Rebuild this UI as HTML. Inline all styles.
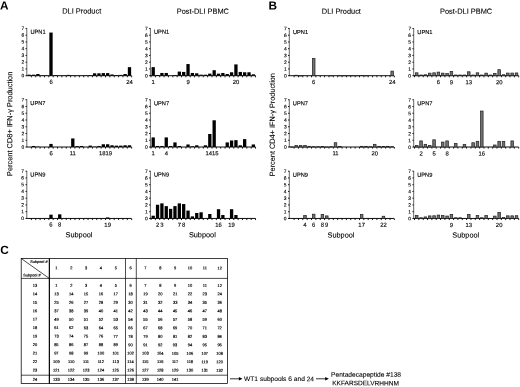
<!DOCTYPE html>
<html><head><meta charset="utf-8"><title>Figure</title>
<style>html,body{margin:0;padding:0;background:#fff}body{width:520px;height:387px;overflow:hidden}svg{display:block;filter:blur(0.35px)}text{font-family:'Liberation Sans', sans-serif;fill:#000}.c{stroke:#000;stroke-width:0.13px}.h{stroke:#000;stroke-width:0.1px}.t{fill:#000;stroke:#000;stroke-width:1.6px}</style></head><body>
<svg width="520" height="387" viewBox="0 0 520 387">
<rect width="520" height="387" fill="#fff"/>
<path d="M26.8 28.15V75.7" fill="none" stroke="#333" stroke-width="0.75"/>
<path d="M26.4 75.7H131.5" fill="none" stroke="#000" stroke-width="0.95"/>
<path d="M25.5 75.7H26.8M25.5 68.95H26.8M25.5 62.2H26.8M25.5 55.45H26.8M25.5 48.7H26.8M25.5 41.95H26.8M25.5 35.2H26.8M25.5 28.45H26.8M31.38 75.7V77.3M35.74 75.7V77.3M40.1 75.7V77.3M44.46 75.7V77.3M48.82 75.7V77.3M53.18 75.7V77.3M57.54 75.7V77.3M61.9 75.7V77.3M66.26 75.7V77.3M70.62 75.7V77.3M74.98 75.7V77.3M79.34 75.7V77.3M83.7 75.7V77.3M88.06 75.7V77.3M92.42 75.7V77.3M96.78 75.7V77.3M101.14 75.7V77.3M105.5 75.7V77.3M109.86 75.7V77.3M114.22 75.7V77.3M118.58 75.7V77.3M122.94 75.7V77.3M127.3 75.7V77.3M131.66 75.7V77.3" stroke="#000" stroke-width="0.9" fill="none"/>
<rect x="27.55" y="74.67" width="3.3" height="1.03" fill="#000"/>
<rect x="31.91" y="74.67" width="3.3" height="1.03" fill="#000"/>
<rect x="36.27" y="73.99" width="3.3" height="1.71" fill="#000"/>
<rect x="40.63" y="75.36" width="3.3" height="0.34" fill="#000"/>
<rect x="44.99" y="75.36" width="3.3" height="0.34" fill="#000"/>
<rect x="49.35" y="32.55" width="3.3" height="43.15" fill="#000"/>
<rect x="53.71" y="75.15" width="3.3" height="0.55" fill="#000"/>
<rect x="58.07" y="75.43" width="3.3" height="0.27" fill="#000"/>
<rect x="62.43" y="75.43" width="3.3" height="0.27" fill="#000"/>
<rect x="66.79" y="74.88" width="3.3" height="0.82" fill="#000"/>
<rect x="71.15" y="75.29" width="3.3" height="0.41" fill="#000"/>
<rect x="75.51" y="75.43" width="3.3" height="0.27" fill="#000"/>
<rect x="79.87" y="75.43" width="3.3" height="0.27" fill="#000"/>
<rect x="84.23" y="75.36" width="3.3" height="0.34" fill="#000"/>
<rect x="88.59" y="75.15" width="3.3" height="0.55" fill="#000"/>
<rect x="92.95" y="73.3" width="3.3" height="2.4" fill="#000"/>
<rect x="97.31" y="73.3" width="3.3" height="2.4" fill="#000"/>
<rect x="101.67" y="73.1" width="3.3" height="2.6" fill="#000"/>
<rect x="106.03" y="73.1" width="3.3" height="2.6" fill="#000"/>
<rect x="110.39" y="74.47" width="3.3" height="1.23" fill="#000"/>
<rect x="114.75" y="75.02" width="3.3" height="0.69" fill="#000"/>
<rect x="119.11" y="74.88" width="3.3" height="0.82" fill="#000"/>
<rect x="123.47" y="73.99" width="3.3" height="1.71" fill="#000"/>
<rect x="127.83" y="67.14" width="3.3" height="8.56" fill="#000"/>
<path d="M26.8 99.45V147" fill="none" stroke="#333" stroke-width="0.75"/>
<path d="M26.4 147H131.5" fill="none" stroke="#000" stroke-width="0.95"/>
<path d="M25.5 147H26.8M25.5 140.25H26.8M25.5 133.5H26.8M25.5 126.75H26.8M25.5 120H26.8M25.5 113.25H26.8M25.5 106.5H26.8M25.5 99.75H26.8M31.38 147V148.6M35.74 147V148.6M40.1 147V148.6M44.46 147V148.6M48.82 147V148.6M53.18 147V148.6M57.54 147V148.6M61.9 147V148.6M66.26 147V148.6M70.62 147V148.6M74.98 147V148.6M79.34 147V148.6M83.7 147V148.6M88.06 147V148.6M92.42 147V148.6M96.78 147V148.6M101.14 147V148.6M105.5 147V148.6M109.86 147V148.6M114.22 147V148.6M118.58 147V148.6M122.94 147V148.6M127.3 147V148.6M131.66 147V148.6" stroke="#000" stroke-width="0.9" fill="none"/>
<rect x="31.91" y="145.97" width="3.3" height="1.03" fill="#000"/>
<rect x="36.27" y="146.66" width="3.3" height="0.34" fill="#000"/>
<rect x="49.35" y="143.92" width="3.3" height="3.08" fill="#000"/>
<rect x="71.15" y="138.44" width="3.3" height="8.56" fill="#000"/>
<rect x="75.51" y="146.18" width="3.3" height="0.82" fill="#000"/>
<rect x="79.87" y="145.97" width="3.3" height="1.03" fill="#000"/>
<rect x="88.59" y="145.63" width="3.3" height="1.37" fill="#000"/>
<rect x="92.95" y="146.66" width="3.3" height="0.34" fill="#000"/>
<rect x="97.31" y="145.97" width="3.3" height="1.03" fill="#000"/>
<rect x="101.67" y="144.26" width="3.3" height="2.74" fill="#000"/>
<rect x="106.03" y="144.26" width="3.3" height="2.74" fill="#000"/>
<rect x="110.39" y="145.29" width="3.3" height="1.71" fill="#000"/>
<rect x="114.75" y="145.63" width="3.3" height="1.37" fill="#000"/>
<rect x="119.11" y="145.63" width="3.3" height="1.37" fill="#000"/>
<rect x="123.47" y="145.29" width="3.3" height="1.71" fill="#000"/>
<rect x="127.83" y="145.29" width="3.3" height="1.71" fill="#000"/>
<path d="M26.8 170.9V218.45" fill="none" stroke="#333" stroke-width="0.75"/>
<path d="M26.4 218.45H131.5" fill="none" stroke="#000" stroke-width="0.95"/>
<path d="M25.5 218.45H26.8M25.5 211.7H26.8M25.5 204.95H26.8M25.5 198.2H26.8M25.5 191.45H26.8M25.5 184.7H26.8M25.5 177.95H26.8M25.5 171.2H26.8M31.38 218.45V220.05M35.74 218.45V220.05M40.1 218.45V220.05M44.46 218.45V220.05M48.82 218.45V220.05M53.18 218.45V220.05M57.54 218.45V220.05M61.9 218.45V220.05M66.26 218.45V220.05M70.62 218.45V220.05M74.98 218.45V220.05M79.34 218.45V220.05M83.7 218.45V220.05M88.06 218.45V220.05M92.42 218.45V220.05M96.78 218.45V220.05M101.14 218.45V220.05M105.5 218.45V220.05M109.86 218.45V220.05M114.22 218.45V220.05M118.58 218.45V220.05M122.94 218.45V220.05M127.3 218.45V220.05M131.66 218.45V220.05" stroke="#000" stroke-width="0.9" fill="none"/>
<rect x="49.35" y="214.68" width="3.3" height="3.77" fill="#000"/>
<rect x="58.07" y="214.34" width="3.3" height="4.11" fill="#000"/>
<rect x="106.03" y="217.42" width="3.3" height="1.03" fill="#000"/>
<path d="M150.4 28.15V75.7" fill="none" stroke="#333" stroke-width="0.75"/>
<path d="M150 75.7H255.6" fill="none" stroke="#000" stroke-width="0.95"/>
<path d="M149.1 75.7H150.4M149.1 68.95H150.4M149.1 62.2H150.4M149.1 55.45H150.4M149.1 48.7H150.4M149.1 41.95H150.4M149.1 35.2H150.4M149.1 28.45H150.4M151.02 75.7V77.3M155.38 75.7V77.3M159.73 75.7V77.3M164.09 75.7V77.3M168.44 75.7V77.3M172.8 75.7V77.3M177.15 75.7V77.3M181.51 75.7V77.3M185.86 75.7V77.3M190.22 75.7V77.3M194.57 75.7V77.3M198.93 75.7V77.3M203.28 75.7V77.3M207.64 75.7V77.3M211.99 75.7V77.3M216.35 75.7V77.3M220.7 75.7V77.3M225.06 75.7V77.3M229.41 75.7V77.3M233.77 75.7V77.3M238.12 75.7V77.3M242.48 75.7V77.3M246.83 75.7V77.3M251.19 75.7V77.3M255.54 75.7V77.3" stroke="#000" stroke-width="0.9" fill="none"/>
<rect x="151.55" y="67.14" width="3.3" height="8.56" fill="#000"/>
<rect x="155.9" y="75.02" width="3.3" height="0.69" fill="#000"/>
<rect x="160.26" y="72.96" width="3.3" height="2.74" fill="#000"/>
<rect x="164.61" y="72.96" width="3.3" height="2.74" fill="#000"/>
<rect x="173.32" y="75.02" width="3.3" height="0.69" fill="#000"/>
<rect x="177.68" y="71.59" width="3.3" height="4.11" fill="#000"/>
<rect x="182.03" y="71.93" width="3.3" height="3.77" fill="#000"/>
<rect x="186.39" y="64.06" width="3.3" height="11.64" fill="#000"/>
<rect x="190.74" y="72.96" width="3.3" height="2.74" fill="#000"/>
<rect x="195.1" y="73.3" width="3.3" height="2.4" fill="#000"/>
<rect x="199.45" y="74.67" width="3.3" height="1.03" fill="#000"/>
<rect x="203.81" y="74.67" width="3.3" height="1.03" fill="#000"/>
<rect x="208.16" y="73.65" width="3.3" height="2.05" fill="#000"/>
<rect x="212.52" y="70.22" width="3.3" height="5.48" fill="#000"/>
<rect x="216.87" y="73.65" width="3.3" height="2.05" fill="#000"/>
<rect x="221.23" y="72.96" width="3.3" height="2.74" fill="#000"/>
<rect x="225.59" y="73.99" width="3.3" height="1.71" fill="#000"/>
<rect x="229.94" y="72.28" width="3.3" height="3.42" fill="#000"/>
<rect x="234.29" y="64.4" width="3.3" height="11.3" fill="#000"/>
<rect x="238.65" y="71.93" width="3.3" height="3.77" fill="#000"/>
<rect x="243" y="72.28" width="3.3" height="3.42" fill="#000"/>
<rect x="247.36" y="72.28" width="3.3" height="3.42" fill="#000"/>
<rect x="251.72" y="74.33" width="3.3" height="1.37" fill="#000"/>
<path d="M150.4 99.45V147" fill="none" stroke="#333" stroke-width="0.75"/>
<path d="M150 147H255.6" fill="none" stroke="#000" stroke-width="0.95"/>
<path d="M149.1 147H150.4M149.1 140.25H150.4M149.1 133.5H150.4M149.1 126.75H150.4M149.1 120H150.4M149.1 113.25H150.4M149.1 106.5H150.4M149.1 99.75H150.4M151.02 147V148.6M155.38 147V148.6M159.73 147V148.6M164.09 147V148.6M168.44 147V148.6M172.8 147V148.6M177.15 147V148.6M181.51 147V148.6M185.86 147V148.6M190.22 147V148.6M194.57 147V148.6M198.93 147V148.6M203.28 147V148.6M207.64 147V148.6M211.99 147V148.6M216.35 147V148.6M220.7 147V148.6M225.06 147V148.6M229.41 147V148.6M233.77 147V148.6M238.12 147V148.6M242.48 147V148.6M246.83 147V148.6M251.19 147V148.6M255.54 147V148.6" stroke="#000" stroke-width="0.9" fill="none"/>
<rect x="151.55" y="137.41" width="3.3" height="9.59" fill="#000"/>
<rect x="155.9" y="145.97" width="3.3" height="1.03" fill="#000"/>
<rect x="160.26" y="145.97" width="3.3" height="1.03" fill="#000"/>
<rect x="164.61" y="137.41" width="3.3" height="9.59" fill="#000"/>
<rect x="168.97" y="145.97" width="3.3" height="1.03" fill="#000"/>
<rect x="173.32" y="142.41" width="3.3" height="4.59" fill="#000"/>
<rect x="177.68" y="145.97" width="3.3" height="1.03" fill="#000"/>
<rect x="186.39" y="144.47" width="3.3" height="2.53" fill="#000"/>
<rect x="190.74" y="146.31" width="3.3" height="0.69" fill="#000"/>
<rect x="195.1" y="145.29" width="3.3" height="1.71" fill="#000"/>
<rect x="203.81" y="145.29" width="3.3" height="1.71" fill="#000"/>
<rect x="208.16" y="133.99" width="3.3" height="13.01" fill="#000"/>
<rect x="212.52" y="120.28" width="3.3" height="26.71" fill="#000"/>
<rect x="225.59" y="142.41" width="3.3" height="4.59" fill="#000"/>
<rect x="229.94" y="140.49" width="3.3" height="6.51" fill="#000"/>
<rect x="234.29" y="140.15" width="3.3" height="6.85" fill="#000"/>
<rect x="238.65" y="145.29" width="3.3" height="1.71" fill="#000"/>
<rect x="243" y="139.12" width="3.3" height="7.88" fill="#000"/>
<rect x="251.72" y="144.47" width="3.3" height="2.53" fill="#000"/>
<path d="M150.4 170.9V218.45" fill="none" stroke="#333" stroke-width="0.75"/>
<path d="M150 218.45H255.6" fill="none" stroke="#000" stroke-width="0.95"/>
<path d="M149.1 218.45H150.4M149.1 211.7H150.4M149.1 204.95H150.4M149.1 198.2H150.4M149.1 191.45H150.4M149.1 184.7H150.4M149.1 177.95H150.4M149.1 171.2H150.4M151.02 218.45V220.05M155.38 218.45V220.05M159.73 218.45V220.05M164.09 218.45V220.05M168.44 218.45V220.05M172.8 218.45V220.05M177.15 218.45V220.05M181.51 218.45V220.05M185.86 218.45V220.05M190.22 218.45V220.05M194.57 218.45V220.05M198.93 218.45V220.05M203.28 218.45V220.05M207.64 218.45V220.05M211.99 218.45V220.05M216.35 218.45V220.05M220.7 218.45V220.05M225.06 218.45V220.05M229.41 218.45V220.05M233.77 218.45V220.05M238.12 218.45V220.05M242.48 218.45V220.05M246.83 218.45V220.05M251.19 218.45V220.05M255.54 218.45V220.05" stroke="#000" stroke-width="0.9" fill="none"/>
<rect x="151.55" y="215.71" width="3.3" height="2.74" fill="#000"/>
<rect x="155.9" y="204.75" width="3.3" height="13.7" fill="#000"/>
<rect x="160.26" y="203.38" width="3.3" height="15.07" fill="#000"/>
<rect x="164.61" y="206.12" width="3.3" height="12.33" fill="#000"/>
<rect x="168.97" y="208.86" width="3.3" height="9.59" fill="#000"/>
<rect x="173.32" y="206.12" width="3.3" height="12.33" fill="#000"/>
<rect x="177.68" y="203.38" width="3.3" height="15.07" fill="#000"/>
<rect x="182.03" y="204.06" width="3.3" height="14.38" fill="#000"/>
<rect x="186.39" y="210.57" width="3.3" height="7.88" fill="#000"/>
<rect x="190.74" y="216.39" width="3.3" height="2.05" fill="#000"/>
<rect x="195.1" y="212.97" width="3.3" height="5.48" fill="#000"/>
<rect x="199.45" y="212.28" width="3.3" height="6.17" fill="#000"/>
<rect x="208.16" y="214" width="3.3" height="4.45" fill="#000"/>
<rect x="216.87" y="209.2" width="3.3" height="9.25" fill="#000"/>
<rect x="221.23" y="215.02" width="3.3" height="3.42" fill="#000"/>
<rect x="229.94" y="209.2" width="3.3" height="9.25" fill="#000"/>
<rect x="234.29" y="215.02" width="3.3" height="3.42" fill="#000"/>
<path d="M289.3 28.15V75.7" fill="none" stroke="#333" stroke-width="0.75"/>
<path d="M288.9 75.7H394" fill="none" stroke="#000" stroke-width="0.95"/>
<path d="M288 75.7H289.3M288 68.95H289.3M288 62.2H289.3M288 55.45H289.3M288 48.7H289.3M288 41.95H289.3M288 35.2H289.3M288 28.45H289.3M294.08 75.7V77.3M298.44 75.7V77.3M302.8 75.7V77.3M307.16 75.7V77.3M311.52 75.7V77.3M315.88 75.7V77.3M320.24 75.7V77.3M324.6 75.7V77.3M328.96 75.7V77.3M333.32 75.7V77.3M337.68 75.7V77.3M342.04 75.7V77.3M346.4 75.7V77.3M350.76 75.7V77.3M355.12 75.7V77.3M359.48 75.7V77.3M363.84 75.7V77.3M368.2 75.7V77.3M372.56 75.7V77.3M376.92 75.7V77.3M381.28 75.7V77.3M385.64 75.7V77.3M390 75.7V77.3M394.36 75.7V77.3" stroke="#000" stroke-width="0.9" fill="none"/>
<rect x="294.97" y="75.23" width="2.58" height="0.47" fill="#727272" stroke="#222" stroke-width="0.72"/>
<rect x="299.33" y="75.78" width="2.58" height="0.2" fill="#727272" stroke="#222" stroke-width="0.72"/>
<rect x="312.41" y="58.58" width="2.58" height="17.12" fill="#727272" stroke="#222" stroke-width="0.72"/>
<rect x="329.85" y="75.71" width="2.58" height="0.2" fill="#727272" stroke="#222" stroke-width="0.72"/>
<rect x="338.57" y="75.64" width="2.58" height="0.2" fill="#727272" stroke="#222" stroke-width="0.72"/>
<rect x="342.93" y="75.64" width="2.58" height="0.2" fill="#727272" stroke="#222" stroke-width="0.72"/>
<rect x="347.29" y="75.64" width="2.58" height="0.2" fill="#727272" stroke="#222" stroke-width="0.72"/>
<rect x="351.65" y="75.64" width="2.58" height="0.2" fill="#727272" stroke="#222" stroke-width="0.72"/>
<rect x="356.01" y="75.64" width="2.58" height="0.2" fill="#727272" stroke="#222" stroke-width="0.72"/>
<rect x="360.37" y="75.36" width="2.58" height="0.34" fill="#727272" stroke="#222" stroke-width="0.72"/>
<rect x="364.73" y="75.71" width="2.58" height="0.2" fill="#727272" stroke="#222" stroke-width="0.72"/>
<rect x="390.89" y="71.1" width="2.58" height="4.6" fill="#727272" stroke="#222" stroke-width="0.72"/>
<path d="M289.3 99.45V147" fill="none" stroke="#333" stroke-width="0.75"/>
<path d="M288.9 147H394" fill="none" stroke="#000" stroke-width="0.95"/>
<path d="M288 147H289.3M288 140.25H289.3M288 133.5H289.3M288 126.75H289.3M288 120H289.3M288 113.25H289.3M288 106.5H289.3M288 99.75H289.3M294.08 147V148.6M298.44 147V148.6M302.8 147V148.6M307.16 147V148.6M311.52 147V148.6M315.88 147V148.6M320.24 147V148.6M324.6 147V148.6M328.96 147V148.6M333.32 147V148.6M337.68 147V148.6M342.04 147V148.6M346.4 147V148.6M350.76 147V148.6M355.12 147V148.6M359.48 147V148.6M363.84 147V148.6M368.2 147V148.6M372.56 147V148.6M376.92 147V148.6M381.28 147V148.6M385.64 147V148.6M390 147V148.6M394.36 147V148.6" stroke="#000" stroke-width="0.9" fill="none"/>
<rect x="290.61" y="147.01" width="2.58" height="0.2" fill="#727272" stroke="#222" stroke-width="0.72"/>
<rect x="294.97" y="145.48" width="2.58" height="1.52" fill="#727272" stroke="#222" stroke-width="0.72"/>
<rect x="299.33" y="145.48" width="2.58" height="1.52" fill="#727272" stroke="#222" stroke-width="0.72"/>
<rect x="303.69" y="145.48" width="2.58" height="1.52" fill="#727272" stroke="#222" stroke-width="0.72"/>
<rect x="308.05" y="146.32" width="2.58" height="0.68" fill="#727272" stroke="#222" stroke-width="0.72"/>
<rect x="312.41" y="146.66" width="2.58" height="0.34" fill="#727272" stroke="#222" stroke-width="0.72"/>
<rect x="316.77" y="146.66" width="2.58" height="0.34" fill="#727272" stroke="#222" stroke-width="0.72"/>
<rect x="321.13" y="146.53" width="2.58" height="0.47" fill="#727272" stroke="#222" stroke-width="0.72"/>
<rect x="325.49" y="147.01" width="2.58" height="0.2" fill="#727272" stroke="#222" stroke-width="0.72"/>
<rect x="329.85" y="146.66" width="2.58" height="0.34" fill="#727272" stroke="#222" stroke-width="0.72"/>
<rect x="334.21" y="142.74" width="2.58" height="4.26" fill="#727272" stroke="#222" stroke-width="0.72"/>
<rect x="338.57" y="146.46" width="2.58" height="0.54" fill="#727272" stroke="#222" stroke-width="0.72"/>
<rect x="360.37" y="146.32" width="2.58" height="0.68" fill="#727272" stroke="#222" stroke-width="0.72"/>
<rect x="364.73" y="146.32" width="2.58" height="0.68" fill="#727272" stroke="#222" stroke-width="0.72"/>
<rect x="369.09" y="146.66" width="2.58" height="0.34" fill="#727272" stroke="#222" stroke-width="0.72"/>
<rect x="373.45" y="144.32" width="2.58" height="2.68" fill="#727272" stroke="#222" stroke-width="0.72"/>
<rect x="377.81" y="146.32" width="2.58" height="0.68" fill="#727272" stroke="#222" stroke-width="0.72"/>
<rect x="382.17" y="146.53" width="2.58" height="0.47" fill="#727272" stroke="#222" stroke-width="0.72"/>
<rect x="386.53" y="146.32" width="2.58" height="0.68" fill="#727272" stroke="#222" stroke-width="0.72"/>
<rect x="390.89" y="146.66" width="2.58" height="0.34" fill="#727272" stroke="#222" stroke-width="0.72"/>
<path d="M289.3 170.9V218.45" fill="none" stroke="#333" stroke-width="0.75"/>
<path d="M288.9 218.45H394" fill="none" stroke="#000" stroke-width="0.95"/>
<path d="M288 218.45H289.3M288 211.7H289.3M288 204.95H289.3M288 198.2H289.3M288 191.45H289.3M288 184.7H289.3M288 177.95H289.3M288 171.2H289.3M294.08 218.45V220.05M298.44 218.45V220.05M302.8 218.45V220.05M307.16 218.45V220.05M311.52 218.45V220.05M315.88 218.45V220.05M320.24 218.45V220.05M324.6 218.45V220.05M328.96 218.45V220.05M333.32 218.45V220.05M337.68 218.45V220.05M342.04 218.45V220.05M346.4 218.45V220.05M350.76 218.45V220.05M355.12 218.45V220.05M359.48 218.45V220.05M363.84 218.45V220.05M368.2 218.45V220.05M372.56 218.45V220.05M376.92 218.45V220.05M381.28 218.45V220.05M385.64 218.45V220.05M390 218.45V220.05M394.36 218.45V220.05" stroke="#000" stroke-width="0.9" fill="none"/>
<rect x="303.69" y="215.56" width="2.58" height="2.89" fill="#727272" stroke="#222" stroke-width="0.72"/>
<rect x="312.41" y="214.19" width="2.58" height="4.26" fill="#727272" stroke="#222" stroke-width="0.72"/>
<rect x="321.13" y="214.53" width="2.58" height="3.92" fill="#727272" stroke="#222" stroke-width="0.72"/>
<rect x="325.49" y="215.9" width="2.58" height="2.55" fill="#727272" stroke="#222" stroke-width="0.72"/>
<rect x="360.37" y="214.53" width="2.58" height="3.92" fill="#727272" stroke="#222" stroke-width="0.72"/>
<rect x="382.17" y="216.24" width="2.58" height="2.2" fill="#727272" stroke="#222" stroke-width="0.72"/>
<path d="M413.7 28.15V75.7" fill="none" stroke="#333" stroke-width="0.75"/>
<path d="M413.3 75.7H518.6" fill="none" stroke="#000" stroke-width="0.95"/>
<path d="M412.4 75.7H413.7M412.4 68.95H413.7M412.4 62.2H413.7M412.4 55.45H413.7M412.4 48.7H413.7M412.4 41.95H413.7M412.4 35.2H413.7M412.4 28.45H413.7M414.53 75.7V77.3M418.87 75.7V77.3M423.21 75.7V77.3M427.55 75.7V77.3M431.89 75.7V77.3M436.23 75.7V77.3M440.57 75.7V77.3M444.91 75.7V77.3M449.25 75.7V77.3M453.59 75.7V77.3M457.93 75.7V77.3M462.27 75.7V77.3M466.61 75.7V77.3M470.95 75.7V77.3M475.29 75.7V77.3M479.63 75.7V77.3M483.97 75.7V77.3M488.31 75.7V77.3M492.65 75.7V77.3M496.99 75.7V77.3M501.33 75.7V77.3M505.67 75.7V77.3M510.01 75.7V77.3M514.35 75.7V77.3M518.69 75.7V77.3" stroke="#000" stroke-width="0.9" fill="none"/>
<rect x="415.41" y="72.81" width="2.58" height="2.89" fill="#727272" stroke="#222" stroke-width="0.72"/>
<rect x="419.75" y="75.02" width="2.58" height="0.68" fill="#727272" stroke="#222" stroke-width="0.72"/>
<rect x="424.09" y="74.75" width="2.58" height="0.95" fill="#727272" stroke="#222" stroke-width="0.72"/>
<rect x="428.43" y="73.15" width="2.58" height="2.55" fill="#727272" stroke="#222" stroke-width="0.72"/>
<rect x="432.77" y="72.81" width="2.58" height="2.89" fill="#727272" stroke="#222" stroke-width="0.72"/>
<rect x="437.11" y="72.12" width="2.58" height="3.57" fill="#727272" stroke="#222" stroke-width="0.72"/>
<rect x="441.45" y="73.15" width="2.58" height="2.55" fill="#727272" stroke="#222" stroke-width="0.72"/>
<rect x="445.79" y="73.5" width="2.58" height="2.2" fill="#727272" stroke="#222" stroke-width="0.72"/>
<rect x="450.13" y="71.44" width="2.58" height="4.26" fill="#727272" stroke="#222" stroke-width="0.72"/>
<rect x="454.47" y="75.02" width="2.58" height="0.68" fill="#727272" stroke="#222" stroke-width="0.72"/>
<rect x="458.81" y="75.02" width="2.58" height="0.68" fill="#727272" stroke="#222" stroke-width="0.72"/>
<rect x="463.15" y="75.02" width="2.58" height="0.68" fill="#727272" stroke="#222" stroke-width="0.72"/>
<rect x="467.49" y="71.78" width="2.58" height="3.92" fill="#727272" stroke="#222" stroke-width="0.72"/>
<rect x="471.83" y="75.02" width="2.58" height="0.68" fill="#727272" stroke="#222" stroke-width="0.72"/>
<rect x="476.17" y="72.81" width="2.58" height="2.89" fill="#727272" stroke="#222" stroke-width="0.72"/>
<rect x="480.51" y="75.02" width="2.58" height="0.68" fill="#727272" stroke="#222" stroke-width="0.72"/>
<rect x="484.85" y="73.15" width="2.58" height="2.55" fill="#727272" stroke="#222" stroke-width="0.72"/>
<rect x="489.19" y="75.02" width="2.58" height="0.68" fill="#727272" stroke="#222" stroke-width="0.72"/>
<rect x="493.53" y="73.5" width="2.58" height="2.2" fill="#727272" stroke="#222" stroke-width="0.72"/>
<rect x="497.87" y="69.68" width="2.58" height="6.02" fill="#727272" stroke="#222" stroke-width="0.72"/>
<rect x="502.21" y="74.75" width="2.58" height="0.95" fill="#727272" stroke="#222" stroke-width="0.72"/>
<rect x="506.55" y="73.08" width="2.58" height="2.62" fill="#727272" stroke="#222" stroke-width="0.72"/>
<rect x="510.89" y="73.08" width="2.58" height="2.62" fill="#727272" stroke="#222" stroke-width="0.72"/>
<rect x="515.23" y="72.95" width="2.58" height="2.75" fill="#727272" stroke="#222" stroke-width="0.72"/>
<path d="M413.7 99.45V147" fill="none" stroke="#333" stroke-width="0.75"/>
<path d="M413.3 147H518.6" fill="none" stroke="#000" stroke-width="0.95"/>
<path d="M412.4 147H413.7M412.4 140.25H413.7M412.4 133.5H413.7M412.4 126.75H413.7M412.4 120H413.7M412.4 113.25H413.7M412.4 106.5H413.7M412.4 99.75H413.7M414.53 147V148.6M418.87 147V148.6M423.21 147V148.6M427.55 147V148.6M431.89 147V148.6M436.23 147V148.6M440.57 147V148.6M444.91 147V148.6M449.25 147V148.6M453.59 147V148.6M457.93 147V148.6M462.27 147V148.6M466.61 147V148.6M470.95 147V148.6M475.29 147V148.6M479.63 147V148.6M483.97 147V148.6M488.31 147V148.6M492.65 147V148.6M496.99 147V148.6M501.33 147V148.6M505.67 147V148.6M510.01 147V148.6M514.35 147V148.6M518.69 147V148.6" stroke="#000" stroke-width="0.9" fill="none"/>
<rect x="415.41" y="145.48" width="2.58" height="1.52" fill="#727272" stroke="#222" stroke-width="0.72"/>
<rect x="419.75" y="140.91" width="2.58" height="6.09" fill="#727272" stroke="#222" stroke-width="0.72"/>
<rect x="424.09" y="144.32" width="2.58" height="2.68" fill="#727272" stroke="#222" stroke-width="0.72"/>
<rect x="428.43" y="145.48" width="2.58" height="1.52" fill="#727272" stroke="#222" stroke-width="0.72"/>
<rect x="432.77" y="139.81" width="2.58" height="7.19" fill="#727272" stroke="#222" stroke-width="0.72"/>
<rect x="441.45" y="142.06" width="2.58" height="4.94" fill="#727272" stroke="#222" stroke-width="0.72"/>
<rect x="445.79" y="140.91" width="2.58" height="6.09" fill="#727272" stroke="#222" stroke-width="0.72"/>
<rect x="454.47" y="143.42" width="2.58" height="3.57" fill="#727272" stroke="#222" stroke-width="0.72"/>
<rect x="463.15" y="144.59" width="2.58" height="2.41" fill="#727272" stroke="#222" stroke-width="0.72"/>
<rect x="471.83" y="142.74" width="2.58" height="4.26" fill="#727272" stroke="#222" stroke-width="0.72"/>
<rect x="476.17" y="141.32" width="2.58" height="5.68" fill="#727272" stroke="#222" stroke-width="0.72"/>
<rect x="480.51" y="111.04" width="2.58" height="35.95" fill="#727272" stroke="#222" stroke-width="0.72"/>
<rect x="493.53" y="145" width="2.58" height="2" fill="#727272" stroke="#222" stroke-width="0.72"/>
<rect x="497.87" y="141.32" width="2.58" height="5.68" fill="#727272" stroke="#222" stroke-width="0.72"/>
<rect x="502.21" y="141.32" width="2.58" height="5.68" fill="#727272" stroke="#222" stroke-width="0.72"/>
<rect x="510.89" y="140.91" width="2.58" height="6.09" fill="#727272" stroke="#222" stroke-width="0.72"/>
<path d="M413.7 170.9V218.45" fill="none" stroke="#333" stroke-width="0.75"/>
<path d="M413.3 218.45H518.6" fill="none" stroke="#000" stroke-width="0.95"/>
<path d="M412.4 218.45H413.7M412.4 211.7H413.7M412.4 204.95H413.7M412.4 198.2H413.7M412.4 191.45H413.7M412.4 184.7H413.7M412.4 177.95H413.7M412.4 171.2H413.7M414.53 218.45V220.05M418.87 218.45V220.05M423.21 218.45V220.05M427.55 218.45V220.05M431.89 218.45V220.05M436.23 218.45V220.05M440.57 218.45V220.05M444.91 218.45V220.05M449.25 218.45V220.05M453.59 218.45V220.05M457.93 218.45V220.05M462.27 218.45V220.05M466.61 218.45V220.05M470.95 218.45V220.05M475.29 218.45V220.05M479.63 218.45V220.05M483.97 218.45V220.05M488.31 218.45V220.05M492.65 218.45V220.05M496.99 218.45V220.05M501.33 218.45V220.05M505.67 218.45V220.05M510.01 218.45V220.05M514.35 218.45V220.05M518.69 218.45V220.05" stroke="#000" stroke-width="0.9" fill="none"/>
<rect x="415.41" y="215.56" width="2.58" height="2.89" fill="#727272" stroke="#222" stroke-width="0.72"/>
<rect x="419.75" y="217.77" width="2.58" height="0.68" fill="#727272" stroke="#222" stroke-width="0.72"/>
<rect x="424.09" y="216.93" width="2.58" height="1.52" fill="#727272" stroke="#222" stroke-width="0.72"/>
<rect x="428.43" y="215.9" width="2.58" height="2.55" fill="#727272" stroke="#222" stroke-width="0.72"/>
<rect x="432.77" y="215.77" width="2.58" height="2.68" fill="#727272" stroke="#222" stroke-width="0.72"/>
<rect x="437.11" y="215.08" width="2.58" height="3.37" fill="#727272" stroke="#222" stroke-width="0.72"/>
<rect x="441.45" y="215.56" width="2.58" height="2.89" fill="#727272" stroke="#222" stroke-width="0.72"/>
<rect x="445.79" y="216.04" width="2.58" height="2.41" fill="#727272" stroke="#222" stroke-width="0.72"/>
<rect x="450.13" y="214.4" width="2.58" height="4.05" fill="#727272" stroke="#222" stroke-width="0.72"/>
<rect x="454.47" y="217.77" width="2.58" height="0.68" fill="#727272" stroke="#222" stroke-width="0.72"/>
<rect x="458.81" y="217.77" width="2.58" height="0.68" fill="#727272" stroke="#222" stroke-width="0.72"/>
<rect x="467.49" y="214.4" width="2.58" height="4.05" fill="#727272" stroke="#222" stroke-width="0.72"/>
<rect x="476.17" y="215.56" width="2.58" height="2.89" fill="#727272" stroke="#222" stroke-width="0.72"/>
<rect x="480.51" y="217.77" width="2.58" height="0.68" fill="#727272" stroke="#222" stroke-width="0.72"/>
<rect x="484.85" y="215.56" width="2.58" height="2.89" fill="#727272" stroke="#222" stroke-width="0.72"/>
<rect x="493.53" y="216.11" width="2.58" height="2.34" fill="#727272" stroke="#222" stroke-width="0.72"/>
<rect x="497.87" y="212.43" width="2.58" height="6.02" fill="#727272" stroke="#222" stroke-width="0.72"/>
<rect x="502.21" y="217.5" width="2.58" height="0.95" fill="#727272" stroke="#222" stroke-width="0.72"/>
<rect x="506.55" y="215.83" width="2.58" height="2.62" fill="#727272" stroke="#222" stroke-width="0.72"/>
<rect x="510.89" y="215.83" width="2.58" height="2.62" fill="#727272" stroke="#222" stroke-width="0.72"/>
<rect x="515.23" y="215.7" width="2.58" height="2.75" fill="#727272" stroke="#222" stroke-width="0.72"/>
<rect x="21.2" y="258.5" width="206.4" height="125.0" fill="none" stroke="#000" stroke-width="0.75"/>
<path d="M21.2 278.4H227.6M21.2 375.2H227.6M49.3 258.5V383.5M125.5 258.5V383.5M136.3 258.5V383.5M21.2 258.5L49.3 278.4" stroke="#000" stroke-width="0.7" fill="none"/>
<path d="M49.4 258.5V383.5" stroke="#000" stroke-width="1.0" fill="none"/>
<g transform="rotate(0.05 125 320) scale(0.1)">
<text x="564" y="2693" font-size="40.0" text-anchor="middle" class="t">1</text>
<text x="712.4" y="2693" font-size="40.0" text-anchor="middle" class="t">2</text>
<text x="860.8" y="2693" font-size="40.0" text-anchor="middle" class="t">3</text>
<text x="1009.2" y="2693" font-size="40.0" text-anchor="middle" class="t">4</text>
<text x="1157.6" y="2693" font-size="40.0" text-anchor="middle" class="t">5</text>
<text x="1306" y="2693" font-size="40.0" text-anchor="middle" class="t">6</text>
<text x="1454.4" y="2693" font-size="40.0" text-anchor="middle" class="t">7</text>
<text x="1602.8" y="2693" font-size="40.0" text-anchor="middle" class="t">8</text>
<text x="1751.2" y="2693" font-size="40.0" text-anchor="middle" class="t">9</text>
<text x="1899.6" y="2693" font-size="40.0" text-anchor="middle" class="t">10</text>
<text x="2048" y="2693" font-size="40.0" text-anchor="middle" class="t">11</text>
<text x="2196.4" y="2693" font-size="40.0" text-anchor="middle" class="t">12</text>
<text x="350" y="2868" font-size="40.0" text-anchor="middle" class="t">13</text>
<text x="564" y="2868" font-size="40.0" text-anchor="middle" class="t">1</text>
<text x="712.4" y="2868" font-size="40.0" text-anchor="middle" class="t">2</text>
<text x="860.8" y="2868" font-size="40.0" text-anchor="middle" class="t">3</text>
<text x="1009.2" y="2868" font-size="40.0" text-anchor="middle" class="t">4</text>
<text x="1157.6" y="2868" font-size="40.0" text-anchor="middle" class="t">5</text>
<text x="1306" y="2868" font-size="40.0" text-anchor="middle" class="t">6</text>
<text x="1454.4" y="2868" font-size="40.0" text-anchor="middle" class="t">7</text>
<text x="1602.8" y="2868" font-size="40.0" text-anchor="middle" class="t">8</text>
<text x="1751.2" y="2868" font-size="40.0" text-anchor="middle" class="t">9</text>
<text x="1899.6" y="2868" font-size="40.0" text-anchor="middle" class="t">10</text>
<text x="2048" y="2868" font-size="40.0" text-anchor="middle" class="t">11</text>
<text x="2196.4" y="2868" font-size="40.0" text-anchor="middle" class="t">12</text>
<text x="350" y="2952.75" font-size="40.0" text-anchor="middle" class="t">14</text>
<text x="564" y="2952.75" font-size="40.0" text-anchor="middle" class="t">13</text>
<text x="712.4" y="2952.75" font-size="40.0" text-anchor="middle" class="t">14</text>
<text x="860.8" y="2952.75" font-size="40.0" text-anchor="middle" class="t">15</text>
<text x="1009.2" y="2952.75" font-size="40.0" text-anchor="middle" class="t">16</text>
<text x="1157.6" y="2952.75" font-size="40.0" text-anchor="middle" class="t">17</text>
<text x="1306" y="2952.75" font-size="40.0" text-anchor="middle" class="t">18</text>
<text x="1454.4" y="2952.75" font-size="40.0" text-anchor="middle" class="t">19</text>
<text x="1602.8" y="2952.75" font-size="40.0" text-anchor="middle" class="t">20</text>
<text x="1751.2" y="2952.75" font-size="40.0" text-anchor="middle" class="t">21</text>
<text x="1899.6" y="2952.75" font-size="40.0" text-anchor="middle" class="t">22</text>
<text x="2048" y="2952.75" font-size="40.0" text-anchor="middle" class="t">23</text>
<text x="2196.4" y="2952.75" font-size="40.0" text-anchor="middle" class="t">24</text>
<text x="350" y="3037.5" font-size="40.0" text-anchor="middle" class="t">15</text>
<text x="564" y="3037.5" font-size="40.0" text-anchor="middle" class="t">25</text>
<text x="712.4" y="3037.5" font-size="40.0" text-anchor="middle" class="t">26</text>
<text x="860.8" y="3037.5" font-size="40.0" text-anchor="middle" class="t">27</text>
<text x="1009.2" y="3037.5" font-size="40.0" text-anchor="middle" class="t">28</text>
<text x="1157.6" y="3037.5" font-size="40.0" text-anchor="middle" class="t">29</text>
<text x="1306" y="3037.5" font-size="40.0" text-anchor="middle" class="t">30</text>
<text x="1454.4" y="3037.5" font-size="40.0" text-anchor="middle" class="t">31</text>
<text x="1602.8" y="3037.5" font-size="40.0" text-anchor="middle" class="t">32</text>
<text x="1751.2" y="3037.5" font-size="40.0" text-anchor="middle" class="t">33</text>
<text x="1899.6" y="3037.5" font-size="40.0" text-anchor="middle" class="t">34</text>
<text x="2048" y="3037.5" font-size="40.0" text-anchor="middle" class="t">35</text>
<text x="2196.4" y="3037.5" font-size="40.0" text-anchor="middle" class="t">36</text>
<text x="350" y="3122.25" font-size="40.0" text-anchor="middle" class="t">16</text>
<text x="564" y="3122.25" font-size="40.0" text-anchor="middle" class="t">37</text>
<text x="712.4" y="3122.25" font-size="40.0" text-anchor="middle" class="t">38</text>
<text x="860.8" y="3122.25" font-size="40.0" text-anchor="middle" class="t">39</text>
<text x="1009.2" y="3122.25" font-size="40.0" text-anchor="middle" class="t">40</text>
<text x="1157.6" y="3122.25" font-size="40.0" text-anchor="middle" class="t">41</text>
<text x="1306" y="3122.25" font-size="40.0" text-anchor="middle" class="t">42</text>
<text x="1454.4" y="3122.25" font-size="40.0" text-anchor="middle" class="t">43</text>
<text x="1602.8" y="3122.25" font-size="40.0" text-anchor="middle" class="t">44</text>
<text x="1751.2" y="3122.25" font-size="40.0" text-anchor="middle" class="t">45</text>
<text x="1899.6" y="3122.25" font-size="40.0" text-anchor="middle" class="t">46</text>
<text x="2048" y="3122.25" font-size="40.0" text-anchor="middle" class="t">47</text>
<text x="2196.4" y="3122.25" font-size="40.0" text-anchor="middle" class="t">48</text>
<text x="350" y="3207" font-size="40.0" text-anchor="middle" class="t">17</text>
<text x="564" y="3207" font-size="40.0" text-anchor="middle" class="t">49</text>
<text x="712.4" y="3207" font-size="40.0" text-anchor="middle" class="t">50</text>
<text x="860.8" y="3207" font-size="40.0" text-anchor="middle" class="t">51</text>
<text x="1009.2" y="3207" font-size="40.0" text-anchor="middle" class="t">52</text>
<text x="1157.6" y="3207" font-size="40.0" text-anchor="middle" class="t">53</text>
<text x="1306" y="3207" font-size="40.0" text-anchor="middle" class="t">54</text>
<text x="1454.4" y="3207" font-size="40.0" text-anchor="middle" class="t">55</text>
<text x="1602.8" y="3207" font-size="40.0" text-anchor="middle" class="t">56</text>
<text x="1751.2" y="3207" font-size="40.0" text-anchor="middle" class="t">57</text>
<text x="1899.6" y="3207" font-size="40.0" text-anchor="middle" class="t">58</text>
<text x="2048" y="3207" font-size="40.0" text-anchor="middle" class="t">59</text>
<text x="2196.4" y="3207" font-size="40.0" text-anchor="middle" class="t">60</text>
<text x="350" y="3291.75" font-size="40.0" text-anchor="middle" class="t">18</text>
<text x="564" y="3291.75" font-size="40.0" text-anchor="middle" class="t">61</text>
<text x="712.4" y="3291.75" font-size="40.0" text-anchor="middle" class="t">62</text>
<text x="860.8" y="3291.75" font-size="40.0" text-anchor="middle" class="t">63</text>
<text x="1009.2" y="3291.75" font-size="40.0" text-anchor="middle" class="t">64</text>
<text x="1157.6" y="3291.75" font-size="40.0" text-anchor="middle" class="t">65</text>
<text x="1306" y="3291.75" font-size="40.0" text-anchor="middle" class="t">66</text>
<text x="1454.4" y="3291.75" font-size="40.0" text-anchor="middle" class="t">67</text>
<text x="1602.8" y="3291.75" font-size="40.0" text-anchor="middle" class="t">68</text>
<text x="1751.2" y="3291.75" font-size="40.0" text-anchor="middle" class="t">69</text>
<text x="1899.6" y="3291.75" font-size="40.0" text-anchor="middle" class="t">70</text>
<text x="2048" y="3291.75" font-size="40.0" text-anchor="middle" class="t">71</text>
<text x="2196.4" y="3291.75" font-size="40.0" text-anchor="middle" class="t">72</text>
<text x="350" y="3376.5" font-size="40.0" text-anchor="middle" class="t">19</text>
<text x="564" y="3376.5" font-size="40.0" text-anchor="middle" class="t">73</text>
<text x="712.4" y="3376.5" font-size="40.0" text-anchor="middle" class="t">74</text>
<text x="860.8" y="3376.5" font-size="40.0" text-anchor="middle" class="t">75</text>
<text x="1009.2" y="3376.5" font-size="40.0" text-anchor="middle" class="t">76</text>
<text x="1157.6" y="3376.5" font-size="40.0" text-anchor="middle" class="t">77</text>
<text x="1306" y="3376.5" font-size="40.0" text-anchor="middle" class="t">78</text>
<text x="1454.4" y="3376.5" font-size="40.0" text-anchor="middle" class="t">79</text>
<text x="1602.8" y="3376.5" font-size="40.0" text-anchor="middle" class="t">80</text>
<text x="1751.2" y="3376.5" font-size="40.0" text-anchor="middle" class="t">81</text>
<text x="1899.6" y="3376.5" font-size="40.0" text-anchor="middle" class="t">82</text>
<text x="2048" y="3376.5" font-size="40.0" text-anchor="middle" class="t">83</text>
<text x="2196.4" y="3376.5" font-size="40.0" text-anchor="middle" class="t">84</text>
<text x="350" y="3461.25" font-size="40.0" text-anchor="middle" class="t">20</text>
<text x="564" y="3461.25" font-size="40.0" text-anchor="middle" class="t">85</text>
<text x="712.4" y="3461.25" font-size="40.0" text-anchor="middle" class="t">86</text>
<text x="860.8" y="3461.25" font-size="40.0" text-anchor="middle" class="t">87</text>
<text x="1009.2" y="3461.25" font-size="40.0" text-anchor="middle" class="t">88</text>
<text x="1157.6" y="3461.25" font-size="40.0" text-anchor="middle" class="t">89</text>
<text x="1306" y="3461.25" font-size="40.0" text-anchor="middle" class="t">90</text>
<text x="1454.4" y="3461.25" font-size="40.0" text-anchor="middle" class="t">91</text>
<text x="1602.8" y="3461.25" font-size="40.0" text-anchor="middle" class="t">92</text>
<text x="1751.2" y="3461.25" font-size="40.0" text-anchor="middle" class="t">93</text>
<text x="1899.6" y="3461.25" font-size="40.0" text-anchor="middle" class="t">94</text>
<text x="2048" y="3461.25" font-size="40.0" text-anchor="middle" class="t">95</text>
<text x="2196.4" y="3461.25" font-size="40.0" text-anchor="middle" class="t">96</text>
<text x="350" y="3546" font-size="40.0" text-anchor="middle" class="t">21</text>
<text x="564" y="3546" font-size="40.0" text-anchor="middle" class="t">97</text>
<text x="712.4" y="3546" font-size="40.0" text-anchor="middle" class="t">98</text>
<text x="860.8" y="3546" font-size="40.0" text-anchor="middle" class="t">99</text>
<text x="1009.2" y="3546" font-size="40.0" text-anchor="middle" class="t">100</text>
<text x="1157.6" y="3546" font-size="40.0" text-anchor="middle" class="t">101</text>
<text x="1306" y="3546" font-size="40.0" text-anchor="middle" class="t">102</text>
<text x="1454.4" y="3546" font-size="40.0" text-anchor="middle" class="t">103</text>
<text x="1602.8" y="3546" font-size="40.0" text-anchor="middle" class="t">104</text>
<text x="1751.2" y="3546" font-size="40.0" text-anchor="middle" class="t">105</text>
<text x="1899.6" y="3546" font-size="40.0" text-anchor="middle" class="t">106</text>
<text x="2048" y="3546" font-size="40.0" text-anchor="middle" class="t">107</text>
<text x="2196.4" y="3546" font-size="40.0" text-anchor="middle" class="t">108</text>
<text x="350" y="3630.75" font-size="40.0" text-anchor="middle" class="t">22</text>
<text x="564" y="3630.75" font-size="40.0" text-anchor="middle" class="t">109</text>
<text x="712.4" y="3630.75" font-size="40.0" text-anchor="middle" class="t">110</text>
<text x="860.8" y="3630.75" font-size="40.0" text-anchor="middle" class="t">111</text>
<text x="1009.2" y="3630.75" font-size="40.0" text-anchor="middle" class="t">112</text>
<text x="1157.6" y="3630.75" font-size="40.0" text-anchor="middle" class="t">113</text>
<text x="1306" y="3630.75" font-size="40.0" text-anchor="middle" class="t">114</text>
<text x="1454.4" y="3630.75" font-size="40.0" text-anchor="middle" class="t">115</text>
<text x="1602.8" y="3630.75" font-size="40.0" text-anchor="middle" class="t">116</text>
<text x="1751.2" y="3630.75" font-size="40.0" text-anchor="middle" class="t">117</text>
<text x="1899.6" y="3630.75" font-size="40.0" text-anchor="middle" class="t">118</text>
<text x="2048" y="3630.75" font-size="40.0" text-anchor="middle" class="t">119</text>
<text x="2196.4" y="3630.75" font-size="40.0" text-anchor="middle" class="t">120</text>
<text x="350" y="3715.5" font-size="40.0" text-anchor="middle" class="t">23</text>
<text x="564" y="3715.5" font-size="40.0" text-anchor="middle" class="t">121</text>
<text x="712.4" y="3715.5" font-size="40.0" text-anchor="middle" class="t">122</text>
<text x="860.8" y="3715.5" font-size="40.0" text-anchor="middle" class="t">123</text>
<text x="1009.2" y="3715.5" font-size="40.0" text-anchor="middle" class="t">124</text>
<text x="1157.6" y="3715.5" font-size="40.0" text-anchor="middle" class="t">125</text>
<text x="1306" y="3715.5" font-size="40.0" text-anchor="middle" class="t">126</text>
<text x="1454.4" y="3715.5" font-size="40.0" text-anchor="middle" class="t">127</text>
<text x="1602.8" y="3715.5" font-size="40.0" text-anchor="middle" class="t">128</text>
<text x="1751.2" y="3715.5" font-size="40.0" text-anchor="middle" class="t">129</text>
<text x="1899.6" y="3715.5" font-size="40.0" text-anchor="middle" class="t">130</text>
<text x="2048" y="3715.5" font-size="40.0" text-anchor="middle" class="t">131</text>
<text x="2196.4" y="3715.5" font-size="40.0" text-anchor="middle" class="t">132</text>
<text x="350" y="3808" font-size="40.0" text-anchor="middle" class="t">24</text>
<text x="564" y="3808" font-size="40.0" text-anchor="middle" class="t">133</text>
<text x="712.4" y="3808" font-size="40.0" text-anchor="middle" class="t">134</text>
<text x="860.8" y="3808" font-size="40.0" text-anchor="middle" class="t">135</text>
<text x="1009.2" y="3808" font-size="40.0" text-anchor="middle" class="t">136</text>
<text x="1157.6" y="3808" font-size="40.0" text-anchor="middle" class="t">137</text>
<text x="1306" y="3808" font-size="40.0" text-anchor="middle" class="t">138</text>
<text x="1454.4" y="3808" font-size="40.0" text-anchor="middle" class="t">139</text>
<text x="1602.8" y="3808" font-size="40.0" text-anchor="middle" class="t">140</text>
<text x="1751.2" y="3808" font-size="40.0" text-anchor="middle" class="t">141</text>
<text x="475" y="2630" font-size="38.5" text-anchor="end" class="t">Subpool #</text>
<text x="232" y="2766" font-size="38.5" class="t">Subpool #</text>
</g>
<path d="M230 378.8H240.5" stroke="#000" stroke-width="0.8" fill="none"/><path d="M242.5 378.8L238.9 377.1V380.5Z" fill="#000"/>
<path d="M316 378.8H326.8" stroke="#000" stroke-width="0.8" fill="none"/><path d="M328.8 378.8L325.2 377.1V380.5Z" fill="#000"/>
<g transform="rotate(0.04 260 193)">
<text x="-0.2" y="9.6" font-size="11.8" font-weight="bold" fill="#000">A</text>
<text x="268.3" y="9.6" font-size="11.8" font-weight="bold" fill="#000">B</text>
<text x="0.4" y="254.1" font-size="11.8" font-weight="bold" fill="#000">C</text>
<text class="h" x="81.6" y="13.7" font-size="7.4" text-anchor="middle">DLI Product</text>
<text class="h" x="202.75" y="13.7" font-size="7.4" text-anchor="middle">Post-DLI PBMC</text>
<text class="h" x="341.25" y="13.7" font-size="7.4" text-anchor="middle">DLI Product</text>
<text class="h" x="466" y="13.7" font-size="7.4" text-anchor="middle">Post-DLI PBMC</text>
<text transform="translate(12.2 124.0) rotate(-90)" class="h" font-size="7.42" text-anchor="middle">Percent CD8+ IFN-γ Production</text>
<text transform="translate(274.7 124.7) rotate(-90)" class="h" font-size="7.33" text-anchor="middle">Percent CD4+ IFN-γ Production</text>
<text class="h" x="79.0" y="237.4" font-size="7.33" text-anchor="middle">Subpool</text>
<text class="h" x="202.4" y="237.4" font-size="7.33" text-anchor="middle">Subpool</text>
<text class="h" x="341.0" y="237.4" font-size="7.33" text-anchor="middle">Subpool</text>
<text class="h" x="465.8" y="237.4" font-size="7.33" text-anchor="middle">Subpool</text>
<text class="c" x="24.1" y="77.5" font-size="4.9" text-anchor="end">0</text>
<text class="c" x="24.1" y="70.75" font-size="4.9" text-anchor="end">1</text>
<text class="c" x="24.1" y="64" font-size="4.9" text-anchor="end">2</text>
<text class="c" x="24.1" y="57.25" font-size="4.9" text-anchor="end">3</text>
<text class="c" x="24.1" y="50.5" font-size="4.9" text-anchor="end">4</text>
<text class="c" x="24.1" y="43.75" font-size="4.9" text-anchor="end">5</text>
<text class="c" x="24.1" y="37" font-size="4.9" text-anchor="end">6</text>
<text class="c" x="24.1" y="30.25" font-size="4.9" text-anchor="end">7</text>
<text class="c" x="51" y="84" font-size="5.9" text-anchor="middle">6</text>
<text class="c" x="129.48" y="84" font-size="5.9" text-anchor="middle">24</text>
<text class="c" x="30.3" y="33.95" font-size="5.7">UPN1</text>
<text class="c" x="24.1" y="148.8" font-size="4.9" text-anchor="end">0</text>
<text class="c" x="24.1" y="142.05" font-size="4.9" text-anchor="end">1</text>
<text class="c" x="24.1" y="135.3" font-size="4.9" text-anchor="end">2</text>
<text class="c" x="24.1" y="128.55" font-size="4.9" text-anchor="end">3</text>
<text class="c" x="24.1" y="121.8" font-size="4.9" text-anchor="end">4</text>
<text class="c" x="24.1" y="115.05" font-size="4.9" text-anchor="end">5</text>
<text class="c" x="24.1" y="108.3" font-size="4.9" text-anchor="end">6</text>
<text class="c" x="24.1" y="101.55" font-size="4.9" text-anchor="end">7</text>
<text class="c" x="51" y="155.3" font-size="5.9" text-anchor="middle">6</text>
<text class="c" x="72.8" y="155.3" font-size="5.9" text-anchor="middle">11</text>
<text class="c" x="105.5" y="155.3" font-size="5.9" text-anchor="middle">1819</text>
<text class="c" x="30.3" y="105.25" font-size="5.7">UPN7</text>
<text class="c" x="24.1" y="220.25" font-size="4.9" text-anchor="end">0</text>
<text class="c" x="24.1" y="213.5" font-size="4.9" text-anchor="end">1</text>
<text class="c" x="24.1" y="206.75" font-size="4.9" text-anchor="end">2</text>
<text class="c" x="24.1" y="200" font-size="4.9" text-anchor="end">3</text>
<text class="c" x="24.1" y="193.25" font-size="4.9" text-anchor="end">4</text>
<text class="c" x="24.1" y="186.5" font-size="4.9" text-anchor="end">5</text>
<text class="c" x="24.1" y="179.75" font-size="4.9" text-anchor="end">6</text>
<text class="c" x="24.1" y="173" font-size="4.9" text-anchor="end">7</text>
<text class="c" x="51" y="226.75" font-size="5.9" text-anchor="middle">6</text>
<text class="c" x="59.72" y="226.75" font-size="5.9" text-anchor="middle">8</text>
<text class="c" x="107.68" y="226.75" font-size="5.9" text-anchor="middle">19</text>
<text class="c" x="30.3" y="176.7" font-size="5.7">UPN9</text>
<text class="c" x="147.7" y="77.5" font-size="4.9" text-anchor="end">0</text>
<text class="c" x="147.7" y="70.75" font-size="4.9" text-anchor="end">1</text>
<text class="c" x="147.7" y="64" font-size="4.9" text-anchor="end">2</text>
<text class="c" x="147.7" y="57.25" font-size="4.9" text-anchor="end">3</text>
<text class="c" x="147.7" y="50.5" font-size="4.9" text-anchor="end">4</text>
<text class="c" x="147.7" y="43.75" font-size="4.9" text-anchor="end">5</text>
<text class="c" x="147.7" y="37" font-size="4.9" text-anchor="end">6</text>
<text class="c" x="147.7" y="30.25" font-size="4.9" text-anchor="end">7</text>
<text class="c" x="153.2" y="84" font-size="5.9" text-anchor="middle">1</text>
<text class="c" x="188.04" y="84" font-size="5.9" text-anchor="middle">9</text>
<text class="c" x="235.94" y="84" font-size="5.9" text-anchor="middle">20</text>
<text class="c" x="153.9" y="33.95" font-size="5.7">UPN1</text>
<text class="c" x="147.7" y="148.8" font-size="4.9" text-anchor="end">0</text>
<text class="c" x="147.7" y="142.05" font-size="4.9" text-anchor="end">1</text>
<text class="c" x="147.7" y="135.3" font-size="4.9" text-anchor="end">2</text>
<text class="c" x="147.7" y="128.55" font-size="4.9" text-anchor="end">3</text>
<text class="c" x="147.7" y="121.8" font-size="4.9" text-anchor="end">4</text>
<text class="c" x="147.7" y="115.05" font-size="4.9" text-anchor="end">5</text>
<text class="c" x="147.7" y="108.3" font-size="4.9" text-anchor="end">6</text>
<text class="c" x="147.7" y="101.55" font-size="4.9" text-anchor="end">7</text>
<text class="c" x="153.2" y="155.3" font-size="5.9" text-anchor="middle">1</text>
<text class="c" x="166.26" y="155.3" font-size="5.9" text-anchor="middle">4</text>
<text class="c" x="211.99" y="155.3" font-size="5.9" text-anchor="middle">1415</text>
<text class="c" x="153.9" y="105.25" font-size="5.7">UPN7</text>
<text class="c" x="147.7" y="220.25" font-size="4.9" text-anchor="end">0</text>
<text class="c" x="147.7" y="213.5" font-size="4.9" text-anchor="end">1</text>
<text class="c" x="147.7" y="206.75" font-size="4.9" text-anchor="end">2</text>
<text class="c" x="147.7" y="200" font-size="4.9" text-anchor="end">3</text>
<text class="c" x="147.7" y="193.25" font-size="4.9" text-anchor="end">4</text>
<text class="c" x="147.7" y="186.5" font-size="4.9" text-anchor="end">5</text>
<text class="c" x="147.7" y="179.75" font-size="4.9" text-anchor="end">6</text>
<text class="c" x="147.7" y="173" font-size="4.9" text-anchor="end">7</text>
<text class="c" x="157.55" y="226.75" font-size="5.9" text-anchor="middle">2</text>
<text class="c" x="161.91" y="226.75" font-size="5.9" text-anchor="middle">3</text>
<text class="c" x="179.33" y="226.75" font-size="5.9" text-anchor="middle">7</text>
<text class="c" x="183.69" y="226.75" font-size="5.9" text-anchor="middle">8</text>
<text class="c" x="218.52" y="226.75" font-size="5.9" text-anchor="middle">16</text>
<text class="c" x="231.59" y="226.75" font-size="5.9" text-anchor="middle">19</text>
<text class="c" x="153.9" y="176.7" font-size="5.7">UPN9</text>
<text class="c" x="286.6" y="77.5" font-size="4.9" text-anchor="end">0</text>
<text class="c" x="286.6" y="70.75" font-size="4.9" text-anchor="end">1</text>
<text class="c" x="286.6" y="64" font-size="4.9" text-anchor="end">2</text>
<text class="c" x="286.6" y="57.25" font-size="4.9" text-anchor="end">3</text>
<text class="c" x="286.6" y="50.5" font-size="4.9" text-anchor="end">4</text>
<text class="c" x="286.6" y="43.75" font-size="4.9" text-anchor="end">5</text>
<text class="c" x="286.6" y="37" font-size="4.9" text-anchor="end">6</text>
<text class="c" x="286.6" y="30.25" font-size="4.9" text-anchor="end">7</text>
<text class="c" x="313.7" y="84" font-size="5.9" text-anchor="middle">6</text>
<text class="c" x="392.18" y="84" font-size="5.9" text-anchor="middle">24</text>
<text class="c" x="292.8" y="33.95" font-size="5.7">UPN1</text>
<text class="c" x="286.6" y="148.8" font-size="4.9" text-anchor="end">0</text>
<text class="c" x="286.6" y="142.05" font-size="4.9" text-anchor="end">1</text>
<text class="c" x="286.6" y="135.3" font-size="4.9" text-anchor="end">2</text>
<text class="c" x="286.6" y="128.55" font-size="4.9" text-anchor="end">3</text>
<text class="c" x="286.6" y="121.8" font-size="4.9" text-anchor="end">4</text>
<text class="c" x="286.6" y="115.05" font-size="4.9" text-anchor="end">5</text>
<text class="c" x="286.6" y="108.3" font-size="4.9" text-anchor="end">6</text>
<text class="c" x="286.6" y="101.55" font-size="4.9" text-anchor="end">7</text>
<text class="c" x="335.5" y="155.3" font-size="5.9" text-anchor="middle">11</text>
<text class="c" x="374.74" y="155.3" font-size="5.9" text-anchor="middle">20</text>
<text class="c" x="292.8" y="105.25" font-size="5.7">UPN7</text>
<text class="c" x="286.6" y="220.25" font-size="4.9" text-anchor="end">0</text>
<text class="c" x="286.6" y="213.5" font-size="4.9" text-anchor="end">1</text>
<text class="c" x="286.6" y="206.75" font-size="4.9" text-anchor="end">2</text>
<text class="c" x="286.6" y="200" font-size="4.9" text-anchor="end">3</text>
<text class="c" x="286.6" y="193.25" font-size="4.9" text-anchor="end">4</text>
<text class="c" x="286.6" y="186.5" font-size="4.9" text-anchor="end">5</text>
<text class="c" x="286.6" y="179.75" font-size="4.9" text-anchor="end">6</text>
<text class="c" x="286.6" y="173" font-size="4.9" text-anchor="end">7</text>
<text class="c" x="304.98" y="226.75" font-size="5.9" text-anchor="middle">4</text>
<text class="c" x="313.7" y="226.75" font-size="5.9" text-anchor="middle">6</text>
<text class="c" x="322.42" y="226.75" font-size="5.9" text-anchor="middle">8</text>
<text class="c" x="326.78" y="226.75" font-size="5.9" text-anchor="middle">9</text>
<text class="c" x="361.66" y="226.75" font-size="5.9" text-anchor="middle">17</text>
<text class="c" x="383.46" y="226.75" font-size="5.9" text-anchor="middle">22</text>
<text class="c" x="292.8" y="176.7" font-size="5.7">UPN9</text>
<text class="c" x="411" y="77.5" font-size="4.9" text-anchor="end">0</text>
<text class="c" x="411" y="70.75" font-size="4.9" text-anchor="end">1</text>
<text class="c" x="411" y="64" font-size="4.9" text-anchor="end">2</text>
<text class="c" x="411" y="57.25" font-size="4.9" text-anchor="end">3</text>
<text class="c" x="411" y="50.5" font-size="4.9" text-anchor="end">4</text>
<text class="c" x="411" y="43.75" font-size="4.9" text-anchor="end">5</text>
<text class="c" x="411" y="37" font-size="4.9" text-anchor="end">6</text>
<text class="c" x="411" y="30.25" font-size="4.9" text-anchor="end">7</text>
<text class="c" x="438.4" y="84" font-size="5.9" text-anchor="middle">6</text>
<text class="c" x="451.42" y="84" font-size="5.9" text-anchor="middle">9</text>
<text class="c" x="468.78" y="84" font-size="5.9" text-anchor="middle">13</text>
<text class="c" x="499.16" y="84" font-size="5.9" text-anchor="middle">20</text>
<text class="c" x="417.2" y="33.95" font-size="5.7">UPN1</text>
<text class="c" x="411" y="148.8" font-size="4.9" text-anchor="end">0</text>
<text class="c" x="411" y="142.05" font-size="4.9" text-anchor="end">1</text>
<text class="c" x="411" y="135.3" font-size="4.9" text-anchor="end">2</text>
<text class="c" x="411" y="128.55" font-size="4.9" text-anchor="end">3</text>
<text class="c" x="411" y="121.8" font-size="4.9" text-anchor="end">4</text>
<text class="c" x="411" y="115.05" font-size="4.9" text-anchor="end">5</text>
<text class="c" x="411" y="108.3" font-size="4.9" text-anchor="end">6</text>
<text class="c" x="411" y="101.55" font-size="4.9" text-anchor="end">7</text>
<text class="c" x="421.04" y="155.3" font-size="5.9" text-anchor="middle">2</text>
<text class="c" x="434.06" y="155.3" font-size="5.9" text-anchor="middle">5</text>
<text class="c" x="447.08" y="155.3" font-size="5.9" text-anchor="middle">8</text>
<text class="c" x="481.8" y="155.3" font-size="5.9" text-anchor="middle">16</text>
<text class="c" x="417.2" y="105.25" font-size="5.7">UPN7</text>
<text class="c" x="411" y="220.25" font-size="4.9" text-anchor="end">0</text>
<text class="c" x="411" y="213.5" font-size="4.9" text-anchor="end">1</text>
<text class="c" x="411" y="206.75" font-size="4.9" text-anchor="end">2</text>
<text class="c" x="411" y="200" font-size="4.9" text-anchor="end">3</text>
<text class="c" x="411" y="193.25" font-size="4.9" text-anchor="end">4</text>
<text class="c" x="411" y="186.5" font-size="4.9" text-anchor="end">5</text>
<text class="c" x="411" y="179.75" font-size="4.9" text-anchor="end">6</text>
<text class="c" x="411" y="173" font-size="4.9" text-anchor="end">7</text>
<text class="c" x="451.42" y="226.75" font-size="5.9" text-anchor="middle">9</text>
<text class="c" x="468.78" y="226.75" font-size="5.9" text-anchor="middle">13</text>
<text class="c" x="499.16" y="226.75" font-size="5.9" text-anchor="middle">20</text>
<text class="c" x="417.2" y="176.7" font-size="5.7">UPN9</text>
<text class="h" x="244.2" y="381.1" font-size="6.63">WT1 subpools 6 and 24</text>
<text class="h" x="331.2" y="376.6" font-size="6.63">Pentadecapeptide #138</text>
<text class="h" x="332.4" y="385.3" font-size="6.54">KKFARSDELVRHHNM</text>
</g>
</svg></body></html>
